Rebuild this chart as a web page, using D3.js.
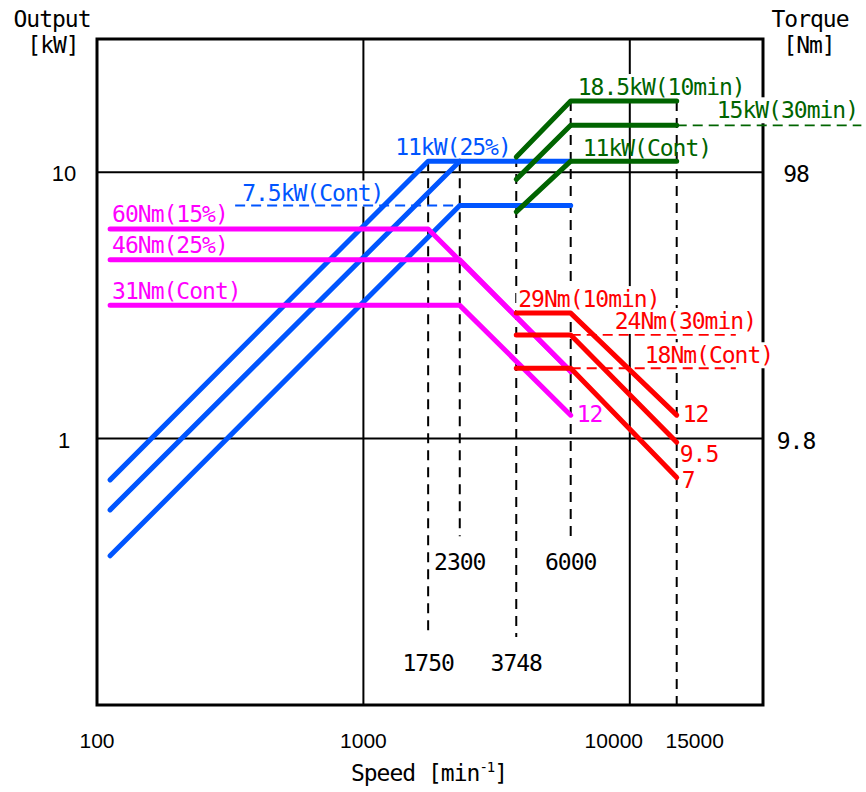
<!DOCTYPE html>
<html>
<head>
<meta charset="utf-8">
<script src="https://cdn.jsdelivr.net/npm/d3@7"></script>
<style>
  body { margin: 0; background: #fff; }
  svg { display: block; }
  .cad { font-family: "DejaVu Sans Mono", monospace; font-size: 23px; letter-spacing: -1px; }
  .tick { font-family: "Liberation Sans", Arial, sans-serif; font-size: 21px; }
</style>
</head>
<body>
<svg id="chart"></svg>
<script>
// ---- data ----
const speedTicks = [100, 1000, 10000, 15000];
const speedTickLabels = ["100", "1000", "10000", "15000"];
const outputTicks = [1, 10];
const outputTickLabels = ["1", "10"];
const torqueTickLabels = ["9.8", "98"];
const torquePerKw = 9.8; // 98 Nm sits on the 10 kW line

// dashed speed markers (kW range each one spans)
const markerSpeeds = [1750, 2300, 3748, 6000, 15000];
const markerTop = [11, 11, 11.4, 18.5, 18.5];
const markerBottom = [0.18, 0.43, 0.18, 0.43, 0.1];
const markerLabels = ["1750", "2300", "3748", "6000", ""];

// low speed winding, output [kW]
const blueOutput = [
    [[112, 0.70], [1750, 11], [6000, 11]],
    [[112, 0.54], [2300, 11]],
    [[112, 0.363], [2300, 7.5], [6000, 7.5]]
];
const blueContDashed = [[330, 7.5], [2300, 7.5]];

// low speed winding, torque [Nm]
const magentaTorque = [
    [[112, 60], [1750, 60], [6000, 17.5]],
    [[112, 46], [2300, 46], [6000, 17.5]],
    [[112, 31], [2300, 31], [6000, 12]]
];

// high speed winding, output [kW]
const greenOutput = [
    [[3748, 11.4], [6000, 18.5], [15000, 18.5]],
    [[3748, 9.4], [6000, 15], [15000, 15]],
    [[3748, 7.1], [6000, 11], [15000, 11]]
];
const greenDashed = [[15000, 15], [74000, 15]];

// high speed winding, torque [Nm]
const redTorque = [
    [[3748, 29], [6000, 29], [15000, 12]],
    [[3748, 24], [6000, 24], [15000, 9.5]],
    [[3748, 18], [6000, 18], [15000, 7]]
];
const redDashed = [
    [[6000, 24], [25000, 24]],
    [[6000, 18], [25000, 18]]
];

// ---- layout ----
const width = 866;
const height = 792;
const margin = { top: 39, right: 103, bottom: 87, left: 97 };
const plotW = width - margin.left - margin.right;
const plotH = height - margin.top - margin.bottom;

const BLUE = "#0055ff";
const MAGENTA = "#ff00ff";
const RED = "#ff0000";
const GREEN = "#006400";

const svg = d3.select("#chart")
    .attr("width", width)
    .attr("height", height);

const x = d3.scaleLog().domain([100, Math.pow(10, 4.5)]).range([margin.left, margin.left + plotW]);
const y = d3.scaleLog().domain([0.1, Math.pow(10, 1.5)]).range([margin.top + plotH, margin.top]);

const gridLayer = svg.append("g");
const bgLayer = svg.append("g");
const curveLayer = svg.append("g");
const textLayer = svg.append("g");

// gridlines
outputTicks.forEach(v => {
    gridLayer.append("line")
        .attr("x1", x.range()[0]).attr("x2", x.range()[1])
        .attr("y1", y(v)).attr("y2", y(v))
        .attr("stroke", "#000").attr("stroke-width", 2);
});
[1000, 10000].forEach(v => {
    gridLayer.append("line")
        .attr("x1", x(v)).attr("x2", x(v))
        .attr("y1", y.range()[0]).attr("y2", y.range()[1])
        .attr("stroke", "#000").attr("stroke-width", 2);
});

// frame
gridLayer.append("rect")
    .attr("x", margin.left).attr("y", margin.top)
    .attr("width", plotW).attr("height", plotH)
    .attr("fill", "none").attr("stroke", "#000").attr("stroke-width", 3);

// dashed speed markers
markerSpeeds.forEach((s, i) => {
    gridLayer.append("line")
        .attr("x1", x(s)).attr("x2", x(s))
        .attr("y1", y(markerTop[i])).attr("y2", y(markerBottom[i]))
        .attr("stroke", "#000").attr("stroke-width", 2)
        .attr("stroke-dasharray", "10 7");
    if (markerLabels[i]) {
        textLayer.append("text")
            .attr("class", "cad")
            .attr("x", x(s)).attr("y", y(markerBottom[i]) + 34)
            .attr("text-anchor", "middle")
            .text(markerLabels[i]);
    }
});

// tick labels
const tickShift = [0, 0, -16, 18];
speedTicks.forEach((s, i) => {
    textLayer.append("text")
        .attr("class", "tick")
        .attr("x", x(s) + tickShift[i]).attr("y", 748)
        .attr("text-anchor", "middle")
        .text(speedTickLabels[i]);
});
outputTicks.forEach((v, i) => {
    textLayer.append("text")
        .attr("class", "tick")
        .style("font-size", "22px")
        .attr("x", 64).attr("y", y(v) + 9)
        .attr("text-anchor", "middle")
        .text(outputTickLabels[i]);
    textLayer.append("text")
        .attr("class", "cad")
        .attr("x", 796).attr("y", y(v) + 10)
        .attr("text-anchor", "middle")
        .text(torqueTickLabels[i]);
});

// axis titles
[["Output", 52, 27], ["[kW]", 53, 53], ["Torque", 810, 27], ["[Nm]", 809, 53]].forEach(t => {
    textLayer.append("text")
        .attr("class", "cad")
        .attr("x", t[1]).attr("y", t[2])
        .attr("text-anchor", "middle")
        .text(t[0]);
});
const speedTitle = textLayer.append("text")
    .attr("class", "cad")
    .attr("x", 429).attr("y", 781)
    .attr("text-anchor", "middle");
speedTitle.append("tspan").text("Speed [min");
speedTitle.append("tspan").attr("dy", -9).style("font-size", "14px").text("-1");
speedTitle.append("tspan").attr("dy", 9).text("]");

// curves
const kwLine = d3.line().x(d => x(d[0])).y(d => y(d[1]));
const nmLine = d3.line().x(d => x(d[0])).y(d => y(d[1] / torquePerKw));

function drawCurve(points, gen, color) {
    curveLayer.append("path")
        .datum(points)
        .attr("d", gen)
        .attr("fill", "none")
        .attr("stroke", color)
        .attr("stroke-width", 5)
        .attr("stroke-linecap", "round")
        .attr("stroke-linejoin", "round");
}
function drawDashed(points, gen, color) {
    curveLayer.append("path")
        .datum(points)
        .attr("d", gen)
        .attr("fill", "none")
        .attr("stroke", color)
        .attr("stroke-width", 1.8)
        .attr("stroke-dasharray", "10 6");
}

blueOutput.forEach(p => drawCurve(p, kwLine, BLUE));
drawDashed(blueContDashed, kwLine, BLUE);
magentaTorque.forEach(p => drawCurve(p, nmLine, MAGENTA));
greenOutput.forEach(p => drawCurve(p, kwLine, GREEN));
drawDashed(greenDashed, kwLine, GREEN);
redTorque.forEach(p => drawCurve(p, nmLine, RED));
redDashed.forEach(p => drawDashed(p, nmLine, RED));

// curve labels, placed relative to a point of their curve
function addLabel(text, pt, isTorque, dx, dy, color, knockout) {
    const px = x(pt[0]) + dx;
    const py = (isTorque ? y(pt[1] / torquePerKw) : y(pt[1])) + dy;
    const t = textLayer.append("text")
        .attr("class", "cad")
        .attr("x", px).attr("y", py)
        .attr("fill", color)
        .text(text);
    if (knockout) {
        const b = t.node().getBBox();
        bgLayer.append("rect")
            .attr("x", b.x - 2).attr("y", b.y)
            .attr("width", b.width + 4).attr("height", b.height)
            .attr("fill", "#fff");
    }
}

addLabel("11kW(25%)", blueOutput[0][1], false, -33, -6, BLUE, true);
addLabel("7.5kW(Cont)", blueContDashed[0], false, 7, -4, BLUE, true);
addLabel("60Nm(15%)", magentaTorque[0][0], true, 2, -7, MAGENTA, true);
addLabel("46Nm(25%)", magentaTorque[1][0], true, 2, -7, MAGENTA, true);
addLabel("31Nm(Cont)", magentaTorque[2][0], true, 2, -6, MAGENTA, true);
addLabel("12", magentaTorque[2][2], true, 6, 7, MAGENTA, false);
addLabel("18.5kW(10min)", greenOutput[0][1], false, 7, -6, GREEN, true);
addLabel("15kW(30min)", greenOutput[1][2], false, 40, -7, GREEN, true);
addLabel("11kW(Cont)", greenOutput[2][1], false, 12, -5, GREEN, false);
addLabel("29Nm(10min)", redTorque[0][0], true, 2, -6, RED, true);
addLabel("24Nm(30min)", redTorque[1][1], true, 44, -6, RED, true);
addLabel("18Nm(Cont)", redTorque[2][1], true, 74, -5, RED, true);
addLabel("12", redTorque[0][2], true, 6, 7, RED, false);
addLabel("9.5", redTorque[1][2], true, 3, 20, RED, false);
addLabel("7", redTorque[2][2], true, 5, 10, RED, false);
</script>
</body>
</html>
